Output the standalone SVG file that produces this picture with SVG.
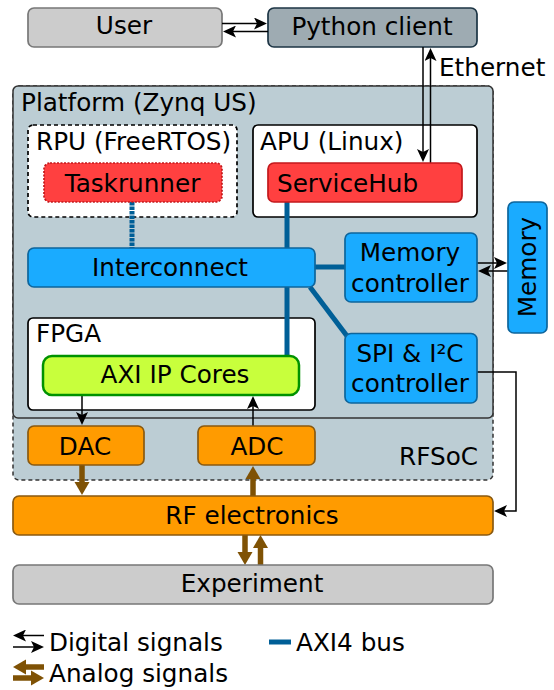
<svg xmlns="http://www.w3.org/2000/svg" width="554" height="690" viewBox="0 0 554 690">
<style>
text{font-family:"DejaVu Sans",sans-serif;font-size:24.7px;fill:#000}
.m{text-anchor:middle}
rect{stroke-width:1.7}
.gray{fill:#ccc;stroke:#777}
.py{fill:#9eabb2;stroke:#1c3444}
.plat{fill:#bccdd4;stroke:#333}
.white{fill:#fff;stroke:#000}
.red{fill:#ff4040;stroke:#c3181c}
.blue{fill:#1aabff;stroke:#0e659c}
.org{fill:#ff9b00;stroke:#8a5a10}
.green{fill:#c8ff3c;stroke:#009200;stroke-width:2.5}
.d{fill:none;stroke:#000;stroke-width:1.5}
.a{fill:none;stroke:#7f5205;stroke-width:5.5}
.b{fill:none;stroke:#005f97;stroke-width:5}
</style>
<defs>
<marker id="ah" markerUnits="userSpaceOnUse" viewBox="0 0 13 12" refX="3" refY="6" markerWidth="13" markerHeight="12" orient="auto"><path d="M0 0L13 6L0 12L3 6Z" fill="#000"/></marker>
<marker id="aa" markerUnits="userSpaceOnUse" viewBox="0 0 13 16" refX="1" refY="8" markerWidth="13" markerHeight="16" orient="auto"><path d="M0 0.5L13 8L0 15.5Z" fill="#7f5205"/></marker>
</defs>
<g id="rfsoc"><rect x="13" y="86" width="480" height="394" rx="6" class="plat" stroke-dasharray="4 3" style="stroke-width:1.5"/><text x="478" y="465" text-anchor="end">RFSoC</text></g>
<g id="platform"><rect x="13" y="86" width="480" height="332" rx="5" class="plat" style="stroke-width:1.5"/><text x="21" y="111">Platform (Zynq US)</text></g>
<g id="user"><rect x="28" y="8" width="194" height="39" rx="6" class="gray"/><text x="124" y="34" class="m">User</text></g>
<g id="python-client"><rect x="268" y="8" width="209" height="39" rx="6" class="py"/><text x="372" y="35" class="m">Python client</text></g>
<g id="rpu"><rect x="28" y="125" width="209" height="92" rx="5" class="white" stroke-dasharray="4 3"/><text x="36" y="150">RPU (FreeRTOS)</text></g>
<g id="apu"><rect x="253" y="125" width="224" height="92" rx="5" class="white"/><text x="260" y="150">APU (Linux)</text></g>
<g id="fpga"><rect x="28" y="318" width="287" height="92" rx="5" class="white"/><text x="36" y="342">FPGA</text></g>
<g id="connectors">
<path class="d" d="M222 23.5H257" marker-end="url(#ah)"/><path class="d" d="M268 31.5H233" marker-end="url(#ah)"/>
<path class="d" d="M423 47V152" marker-end="url(#ah)"/><path class="d" d="M430.500 163V58" marker-end="url(#ah)"/>
<path class="b" d="M132 202V248" stroke-dasharray="3.500 1"/>
<path class="b" d="M287 202V356"/><path class="b" d="M315 267H345"/><path class="b" d="M310 287L347 336"/>
<path class="d" d="M477 263H497" marker-end="url(#ah)"/><path class="d" d="M508 271H488" marker-end="url(#ah)"/>
<path class="d" d="M477 372H516V511H504" marker-end="url(#ah)"/>
<path class="d" d="M82 395V415" marker-end="url(#ah)"/><path class="d" d="M253 426V406" marker-end="url(#ah)"/>
<path class="a" d="M82 465V483" marker-end="url(#aa)"/><path class="a" d="M253 496V478" marker-end="url(#aa)"/>
<path class="a" d="M245 535V553" marker-end="url(#aa)"/><path class="a" d="M260.500 565V547" marker-end="url(#aa)"/>
</g>
<g id="taskrunner"><rect x="44" y="163" width="178" height="39" rx="6" class="red" stroke-dasharray="2 1.5"/><text x="132.500" y="192" class="m">Taskrunner</text></g>
<g id="servicehub"><rect x="268" y="163" width="194" height="39" rx="6" class="red"/><text x="277" y="192">ServiceHub</text></g>
<g id="interconnect"><rect x="28" y="248" width="287" height="39" rx="6" class="blue"/><text x="170" y="276" class="m">Interconnect</text></g>
<g id="memory-controller"><rect x="345" y="233" width="132" height="69" rx="6" class="blue"/><text x="410" y="261" class="m">Memory</text><text x="410" y="292" class="m">controller</text></g>
<g id="spi-i2c-controller"><rect x="345" y="333.500" width="132" height="69.500" rx="6" class="blue"/><text x="410" y="362" class="m">SPI &amp; I²C</text><text x="410" y="392" class="m">controller</text></g>
<g id="memory"><rect x="508" y="202" width="39" height="131" rx="6" class="blue"/><text transform="translate(536 267) rotate(-90)" class="m">Memory</text></g>
<g id="axi-ip-cores"><rect x="43" y="356" width="256" height="39" rx="9" class="green"/><text x="175" y="383" class="m">AXI IP Cores</text></g>
<g id="dac"><rect x="28" y="426" width="116" height="39" rx="6" class="org"/><text x="85" y="455" class="m">DAC</text></g>
<g id="adc"><rect x="198" y="426" width="117" height="39" rx="6" class="org"/><text x="257" y="455" class="m">ADC</text></g>
<g id="rf-electronics"><rect x="13" y="496" width="480" height="39" rx="6" class="org"/><text x="252" y="524" class="m">RF electronics</text></g>
<g id="experiment"><rect x="13" y="565" width="480" height="39" rx="6" class="gray"/><text x="252" y="592" class="m">Experiment</text></g>
<text id="ethernet-label" x="439" y="76">Ethernet</text>
<g id="legend">
<path class="d" d="M44 635.500H23" marker-end="url(#ah)"/><path class="d" d="M13 647H34" marker-end="url(#ah)"/>
<path class="a" d="M44 667H25" marker-end="url(#aa)"/><path class="a" d="M13 678H32" marker-end="url(#aa)"/>
<path class="b" d="M269 642H291"/>
<text x="49" y="651">Digital signals</text><text x="49" y="682">Analog signals</text><text x="296" y="651">AXI4 bus</text>
</g>
</svg>
